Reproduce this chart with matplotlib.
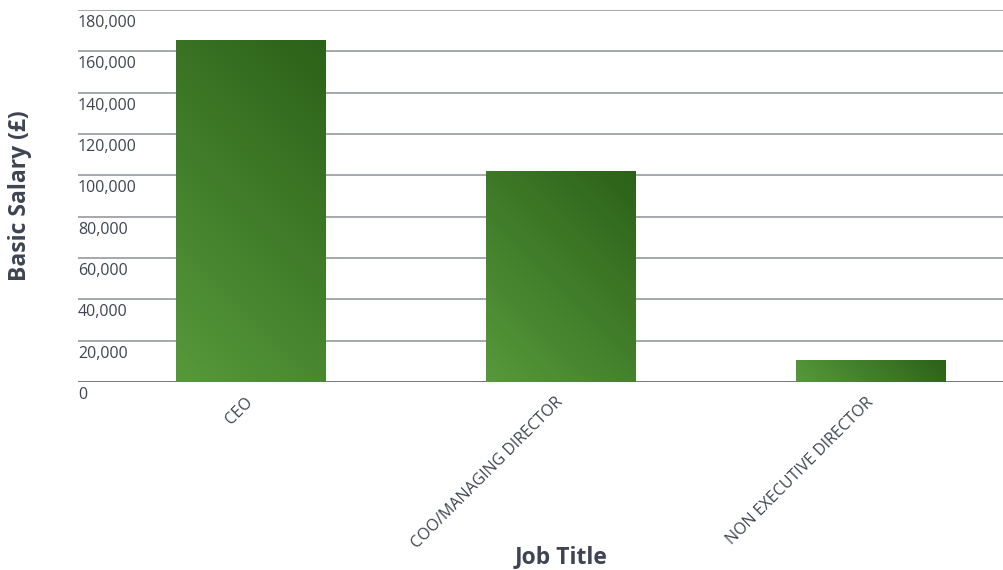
import matplotlib

matplotlib.use("Agg")
import matplotlib.pyplot as plt
import numpy as np
from matplotlib.colors import LinearSegmentedColormap
from matplotlib.transforms import blended_transform_factory, offset_copy

categories = ["CEO", "COO/MANAGING DIRECTOR", "NON EXECUTIVE DIRECTOR"]
salaries = [165500, 102000, 10700]
y_ticks = [0, 20000, 40000, 60000, 80000, 100000, 120000, 140000, 160000, 180000]

TEXT = "#3e4451"
GRID = "#8c8f96"
AXIS = "#4b505b"

green = LinearSegmentedColormap.from_list("green", ["#56993a", "#2c6119"])

plt.rcParams["font.family"] = ["Open Sans", "DejaVu Sans"]

fig = plt.figure(figsize=(10.04, 5.70), dpi=100)
ax = fig.add_axes([78 / 1004, 1 - 382 / 570, 1 - 78 / 1004, 372 / 570])
ax.set_xlim(-0.556, 2.427)
ax.set_ylim(0, 180000)
ax.axis("off")

# horizontal grid, base line darker
for v in y_ticks:
    ax.axhline(v, color=AXIS if v == 0 else GRID, lw=1.1, zorder=1)

# tick labels hang just below their grid line, flush with the left edge
trans = offset_copy(blended_transform_factory(ax.transAxes, ax.transData),
                    fig=fig, x=0, y=-3.5, units="points")
for v in y_ticks:
    ax.text(0.0, v, f"{v:,}", transform=trans, ha="left", va="top",
            fontsize=11.5, color=TEXT)

# bars filled with a 45-degree gradient (screen space), light at bottom-left
width = 0.483
bars = ax.bar(range(len(categories)), salaries, width=width,
              facecolor="none", edgecolor="none", zorder=2)
fig.canvas.draw()
for bar in bars:
    x0, y0 = bar.get_x(), bar.get_y()
    bb = bar.get_window_extent()
    nx, ny = max(int(bb.width), 2), max(int(bb.height), 2)
    px = np.arange(nx)[None, :]
    py = np.arange(ny)[::-1, None]
    grad = (px + py) / (nx + ny - 2)
    im = ax.imshow(grad, cmap=green, aspect="auto", origin="upper",
                   extent=(x0, x0 + bar.get_width(), y0, y0 + bar.get_height()),
                   vmin=0, vmax=1, zorder=2, interpolation="bilinear")
    im.set_clip_path(bar)
ax.set_xlim(-0.556, 2.427)
ax.set_ylim(0, 180000)

# rotated category labels
lab_trans = offset_copy(ax.transData, fig=fig, x=0, y=-13, units="points")
for i, name in enumerate(categories):
    ax.text(i, 0, name, transform=lab_trans, rotation=45, rotation_mode="anchor",
            ha="right", va="center", fontsize=11.5, color=TEXT)

fig.text(20 / 1004, 1 - 196 / 570, "Basic Salary (£)", rotation=90,
         ha="center", va="center", fontsize=16.5, fontweight="bold", color=TEXT)
fig.text(561 / 1004, 1 - 557 / 570, "Job Title",
         ha="center", va="center", fontsize=16.5, fontweight="bold", color=TEXT)

fig.savefig("out.png", dpi=100)
